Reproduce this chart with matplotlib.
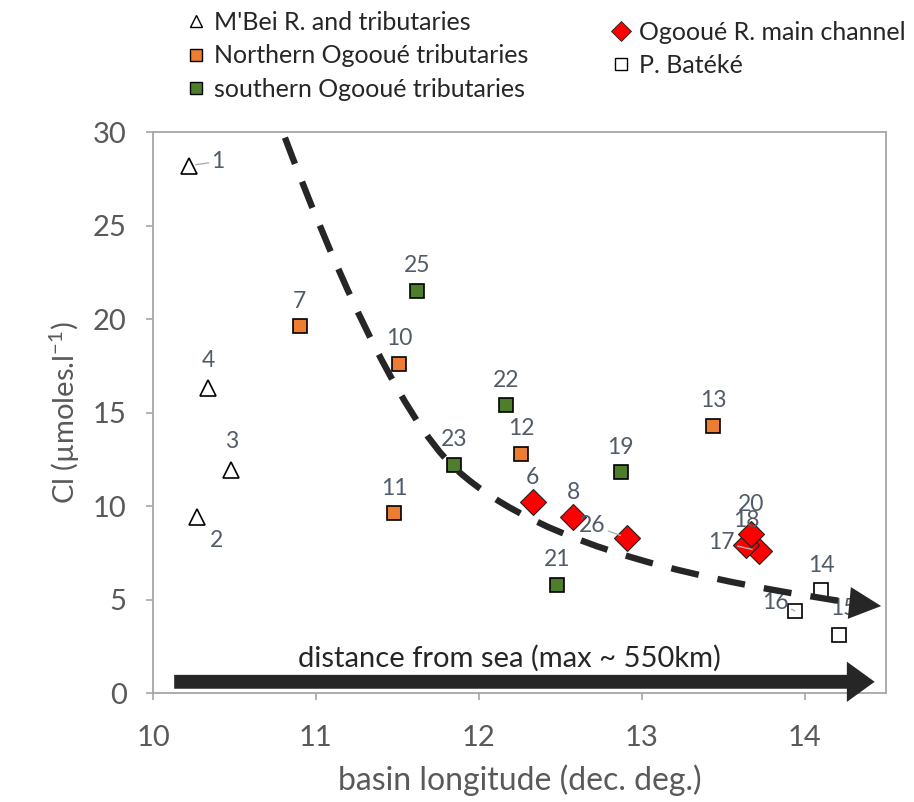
import matplotlib; matplotlib.use("Agg")
import matplotlib.pyplot as plt
from matplotlib.lines import Line2D
from matplotlib.path import Path
from matplotlib.patches import PathPatch

plt.rcParams['font.family'] = ['Lato', 'DejaVu Sans']
plt.rcParams['mathtext.fontset'] = 'custom'
plt.rcParams['mathtext.rm'] = 'Lato'

# data: basin longitude (dec. deg.) and Cl (umol/l), per group
mbei_id = [1, 2, 3, 4]
mbei_lon = [10.22, 10.27, 10.48, 10.34]
mbei_cl = [28.2, 9.4, 11.9, 16.3]

north_id = [7, 10, 11, 12, 13]
north_lon = [10.90, 11.51, 11.48, 12.26, 13.44]
north_cl = [19.6, 17.6, 9.6, 12.8, 14.3]

south_id = [19, 21, 22, 23, 25]
south_lon = [12.87, 12.48, 12.17, 11.85, 11.62]
south_cl = [11.8, 5.8, 15.4, 12.2, 21.5]

main_id = [6, 8, 17, 18, 20, 26]
main_lon = [12.33, 12.58, 13.72, 13.64, 13.67, 12.91]
main_cl = [10.2, 9.4, 7.6, 7.9, 8.5, 8.3]

bateke_id = [14, 15, 16]
bateke_lon = [14.10, 14.21, 13.94]
bateke_cl = [5.5, 3.1, 4.4]

# hand-drawn trend curve: two cubic bezier pieces (start, ctrl, ctrl, mid, ctrl, ctrl, end)
trend_lon = [10.81, 11.07, 11.50, 11.865, 12.41, 13.43, 14.34]
trend_cl = [29.7, 23.7, 14.8, 11.93, 7.65, 5.94, 4.76]
trend_tip = (14.47, 4.65)

# label offsets (points), default above the marker
lab_off = {1: (21, 3), 2: (14, -17), 3: (0, 21), 4: (0, 20), 15: (3, 19),
           16: (-14, 6), 17: (-27, 6), 20: (0, 21), 26: (-25, 9)}
leader = {1, 16, 17, 26}

grey = '#595959'
labcol = '#525c68'

fig = plt.figure(figsize=(9.14, 8.02), dpi=100)
ax = fig.add_axes([0.1674, 0.1359, 0.802, 0.6995])

ax.plot(mbei_lon, mbei_cl, ls='none', marker='^', ms=11, mfc='white', mec='black', mew=1.2, zorder=3)
ax.plot(north_lon, north_cl, ls='none', marker='s', ms=10, mfc='#ED7D31', mec='black', mew=1.2, zorder=3)
ax.plot(south_lon, south_cl, ls='none', marker='s', ms=10, mfc='#4E7D2C', mec='black', mew=1.2, zorder=3)
ax.plot(main_lon, main_cl, ls='none', marker='D', ms=13, mfc='#FF0000', mec='#222222', mew=0.8, zorder=3)
ax.plot(bateke_lon, bateke_cl, ls='none', marker='s', ms=10, mfc='white', mec='black', mew=1.2, zorder=3)

for ids, xs, ys in [(mbei_id, mbei_lon, mbei_cl), (north_id, north_lon, north_cl),
                    (south_id, south_lon, south_cl), (main_id, main_lon, main_cl),
                    (bateke_id, bateke_lon, bateke_cl)]:
    for i, x, y in zip(ids, xs, ys):
        off = lab_off.get(i, (0, 18))
        ap = dict(arrowstyle='-', color='#b0b0b0', lw=1, shrinkA=0, shrinkB=5) if i in leader else None
        ax.annotate(str(i), (x, y), xytext=off, textcoords='offset points', ha='center', va='center',
                    fontsize=16.5, color=labcol, arrowprops=ap, zorder=4)

# dashed trend (smooth bezier) + head
codes = [Path.MOVETO] + [Path.CURVE4] * 6
trend = PathPatch(Path(list(zip(trend_lon, trend_cl)), codes), fill=False, ec='#262626', lw=4.6,
                  ls=(0, (4.4, 3.0)), capstyle='butt', zorder=5)
ax.add_patch(trend)
ax.annotate('', xy=trend_tip, xytext=(trend_lon[-1], trend_cl[-1]),
            arrowprops=dict(arrowstyle='simple,head_length=1.15,head_width=1.15,tail_width=0.01',
                            color='#262626', lw=0, mutation_scale=20, shrinkA=0, shrinkB=0), zorder=6)

# distance arrow
ax.annotate('', xy=(14.43, 0.6), xytext=(10.13, 0.6),
            arrowprops=dict(arrowstyle='simple,head_length=1.0,head_width=1.45,tail_width=0.5',
                            color='#262626', lw=0, mutation_scale=20, shrinkA=0, shrinkB=0), zorder=6)
ax.text(12.19, 1.87, 'distance from sea (max ~ 550km)', ha='center', va='center', fontsize=21, color='#262626')

ax.set_xlim(10, 14.5)
ax.set_ylim(0, 30)
ax.set_xticks([10, 11, 12, 13, 14])
ax.set_yticks([0, 5, 10, 15, 20, 25, 30])
for s in ax.spines.values():
    s.set_color('#a6a6a6'); s.set_linewidth(1.3)
ax.tick_params(axis='both', direction='out', length=5, width=1.2, color='#a6a6a6', labelsize=21, labelcolor=grey)
ax.tick_params(axis='x', pad=18)
ax.tick_params(axis='y', pad=14)
ax.set_xlabel('basin longitude (dec. deg.)', fontsize=23, color=grey, labelpad=10)
ax.set_ylabel(r'Cl (µmoles.l$^{\mathregular{-1}}$)', fontsize=21, color=grey, labelpad=8)

h_left = [Line2D([], [], ls='none', marker='^', ms=8, mfc='white', mec='black', mew=1),
          Line2D([], [], ls='none', marker='s', ms=9, mfc='#ED7D31', mec='black', mew=1),
          Line2D([], [], ls='none', marker='s', ms=9, mfc='#4E7D2C', mec='black', mew=1)]
h_right = [Line2D([], [], ls='none', marker='D', ms=10, mfc='#FF0000', mec='#222222', mew=0.6),
           Line2D([], [], ls='none', marker='s', ms=9, mfc='white', mec='black', mew=1)]
fig.legend(h_left, ["M'Bei R. and tributaries", 'Northern Ogooué tributaries', 'southern Ogooué tributaries'],
           loc='upper left', bbox_to_anchor=(0.19, 1.005), frameon=False, fontsize=18,
           handlelength=0.6, handletextpad=0.4, labelspacing=0.42, borderaxespad=0.2, labelcolor='#262626')
fig.legend(h_right, ['Ogooué R. main channel', 'P. Batéké'],
           loc='upper left', bbox_to_anchor=(0.655, 0.993), frameon=False, fontsize=18,
           handlelength=0.6, handletextpad=0.4, labelspacing=0.42, borderaxespad=0.2, labelcolor='#262626')

fig.savefig('out.png', dpi=100)
